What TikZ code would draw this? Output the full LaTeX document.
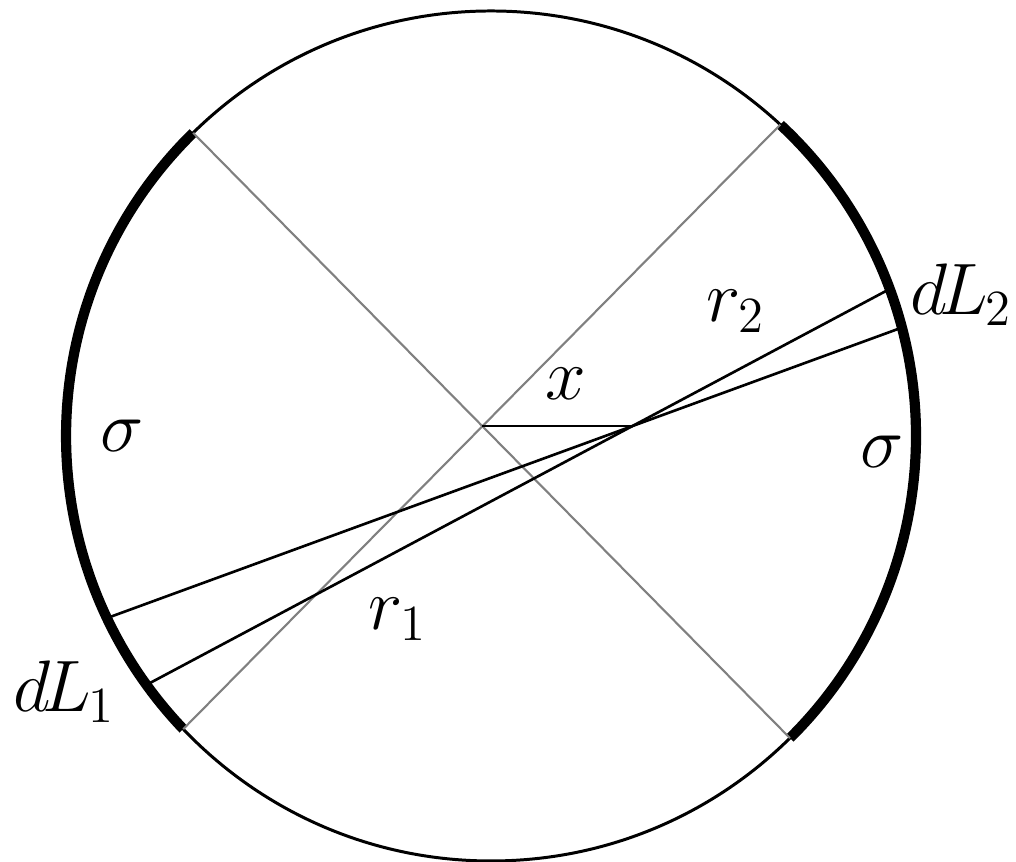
\documentclass[tikz,border=0pt]{standalone}
\usepackage{tikz}
\usetikzlibrary{calc}

\begin{document}
\begin{tikzpicture}[x=0.01cm, y=0.01cm,
  rim/.style={line width=0.85pt},
  arcline/.style={line width=2.9pt},
  diag/.style={line width=0.6pt, gray},
  chord/.style={line width=0.75pt},
  lbl/.style={inner sep=0pt, anchor=base west, font=\fontsize{19.5}{24}\selectfont}]
  \useasboundingbox (0,0) rectangle (1016,862);
  \coordinate (O) at (491,426);
  \draw[rim] (O) circle[radius=425];
  %% charged arcs sigma, left and right
  \draw[arcline] ($(O)+(134.5:425)$) arc[start angle=134.5, end angle=223.6, radius=425];
  \draw[arcline] ($(O)+(-45.3:425)$) arc[start angle=-45.3, end angle=47.1, radius=425];
  %% the two gray diagonals
  \coordinate (UL) at ($(O)+(134.5:425)$);
  \coordinate (LL) at ($(O)+(223.6:425)$);
  \coordinate (UR) at ($(O)+(47.1:425)$);
  \coordinate (LR) at ($(O)+(-45.3:425)$);
  \draw[diag] (UL) -- (LR);
  \draw[diag] (UR) -- (LL);
  \coordinate (P) at (intersection of UL--LR and UR--LL);
  %% narrow cones from dL1 to dL2
  \coordinate (A1) at (110,245);
  \coordinate (A2) at (150,179);
  \coordinate (B1) at (886,571);
  \coordinate (B2) at (898,533);
  \draw[chord] (A1) -- (B2);
  \draw[chord] (A2) -- (B1);
  \coordinate (Q) at (intersection of A1--B2 and A2--B1);
  \draw[chord] (P) -- (P -| Q);
  %% labels
  \node[lbl] (sigL) at (100,410) {$\sigma$};
  \node[lbl] (sigR) at (860,394) {$\sigma$};
  \node[lbl] (xlab) at (545,462) {$x$};
  \node[lbl] (rtwo) at (706,540) {$r_2$};
  \node[lbl] (rone) at (368,232) {$r_1$};
  \node[lbl] (dLone) at (13,150) {$d\mkern-2mu L_{\mkern-1mu 1}$};
  \node[lbl] (dLtwo) at (910,547) {$d\mkern-2mu L_{\mkern-1mu 2}$};
\end{tikzpicture}
\end{document}
